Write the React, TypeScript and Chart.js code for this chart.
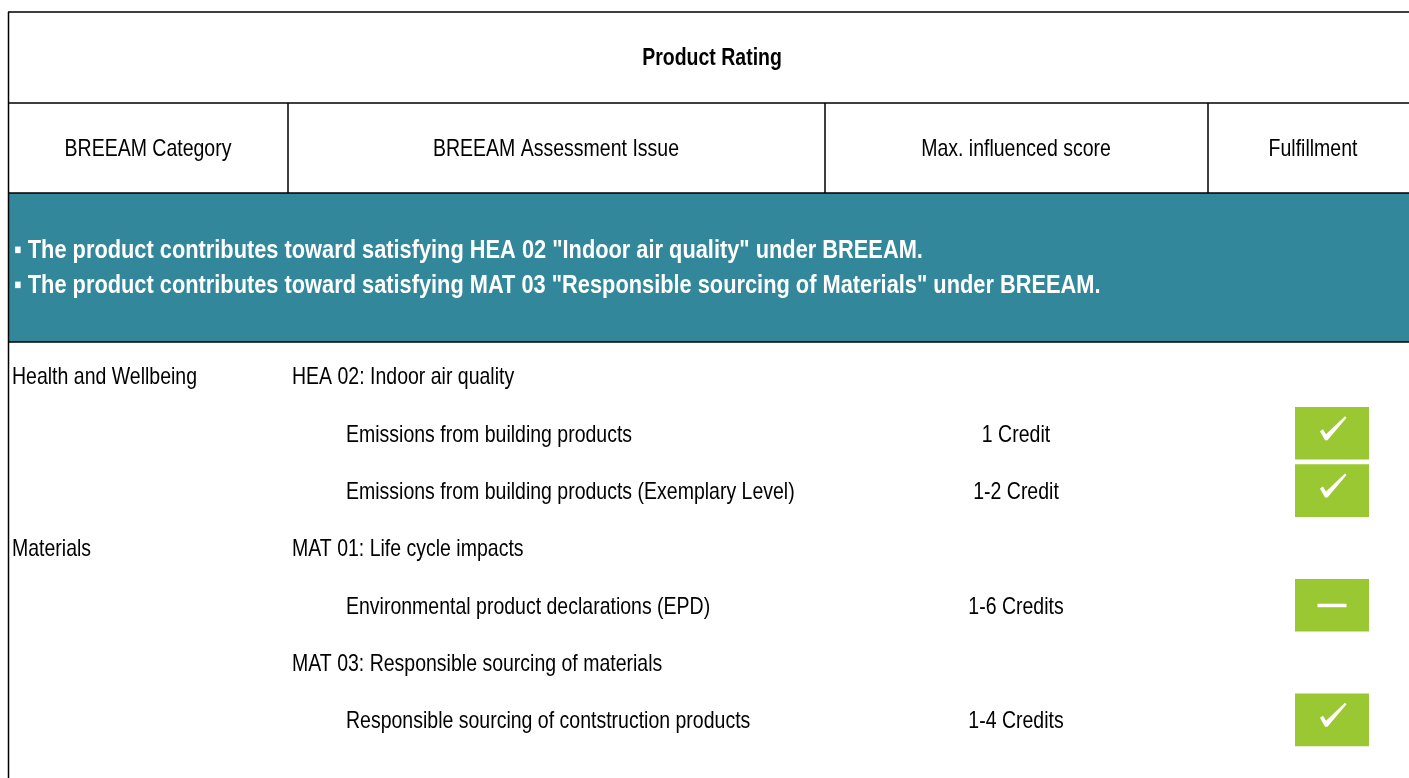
import React, { useEffect, useRef } from "react";
import { Chart, registerables } from "chart.js";

Chart.register(...registerables);

const titleText = "Product Rating";
const columnHeaders = ["BREEAM Category", "BREEAM Assessment Issue", "Max. influenced score", "Fulfillment"];
const bannerLines = [
  "\u25AA The product contributes toward satisfying HEA 02 \"Indoor air quality\" under BREEAM.",
  "\u25AA The product contributes toward satisfying MAT 03 \"Responsible sourcing of Materials\" under BREEAM.",
];
const rowKeys = ["r1", "r2", "r3", "r4", "r5", "r6", "r7"];
const rowCategories = ["Health and Wellbeing", "", "", "Materials", "", "", ""];
const rowIssues = [
  "HEA 02: Indoor air quality",
  "Emissions from building products",
  "Emissions from building products (Exemplary Level)",
  "MAT 01: Life cycle impacts",
  "Environmental product declarations (EPD)",
  "MAT 03: Responsible sourcing of materials",
  "Responsible sourcing of contstruction products",
];
const rowIsSubItem = [false, true, true, false, true, false, true];
const rowScores = ["", "1 Credit", "1-2 Credit", "", "1-6 Credits", "", "1-4 Credits"];
const rowFulfillment = ["", "check", "check", "", "partial", "", "check"];

const FONT = "'Liberation Sans', Arial, sans-serif";
const TEAL = "#32879b";
const GREEN = "#9ac832";
const SY = 1.2;

function txt(ctx: CanvasRenderingContext2D, s: string, x: number, y: number, size: number, bold: boolean, align: CanvasTextAlign, color: string) {
  ctx.save();
  ctx.translate(x, y + 2);
  ctx.scale(1, SY);
  ctx.font = `${bold ? "bold " : ""}${size}px ${FONT}`;
  ctx.textAlign = align;
  ctx.textBaseline = "middle";
  ctx.fillStyle = color;
  ctx.fillText(s, 0, 0);
  ctx.restore();
}

const tablePlugin = {
  id: "tablePlugin",
  beforeDraw(chart: any) {
    const ctx: CanvasRenderingContext2D = chart.ctx;
    const W = chart.width;
    const H = chart.height;
    ctx.save();
    ctx.fillStyle = "#ffffff";
    ctx.fillRect(0, 0, W, H);
    ctx.fillStyle = TEAL;
    ctx.fillRect(8, 193, W - 8, 149);
    ctx.strokeStyle = "#000";
    ctx.lineWidth = 1.5;
    ctx.beginPath();
    [12, 103, 193, 342].forEach((y) => {
      ctx.moveTo(8, y);
      ctx.lineTo(W, y);
    });
    ctx.moveTo(8.5, 12);
    ctx.lineTo(8.5, H);
    [288, 825, 1208].forEach((x) => {
      ctx.moveTo(x, 103);
      ctx.lineTo(x, 193);
    });
    ctx.stroke();
    ctx.restore();

    txt(ctx, titleText, 712, 57, 19.5, true, "center", "#000");
    const hx = [148, 556, 1016, 1313];
    columnHeaders.forEach((h, i) => txt(ctx, h, hx[i], 148, 19.5, false, "center", "#000"));
    bannerLines.forEach((l, i) => txt(ctx, l, 14, 249 + i * 35, 21.8, true, "left", "#fff"));

    const yScale = chart.scales.y;
    rowKeys.forEach((_, i) => {
      const y = yScale.getPixelForValue(i);
      if (rowCategories[i]) txt(ctx, rowCategories[i], 12, y, 19.5, false, "left", "#000");
      txt(ctx, rowIssues[i], rowIsSubItem[i] ? 346 : 292, y, 19.5, false, "left", "#000");
      if (rowScores[i]) txt(ctx, rowScores[i], 1016, y, 19.5, false, "center", "#000");
    });
  },
  afterDatasetsDraw(chart: any) {
    const ctx: CanvasRenderingContext2D = chart.ctx;
    const meta = chart.getDatasetMeta(0);
    meta.data.forEach((el: any, i: number) => {
      const status = rowFulfillment[i];
      if (!status) return;
      const cx = (el.x + el.base) / 2;
      const cy = el.y;
      ctx.save();
      ctx.fillStyle = "#fff";
      if (status === "check") {
        ctx.beginPath();
        ctx.moveTo(cx - 12, cy - 2);
        ctx.lineTo(cx - 9, cy - 4);
        ctx.lineTo(cx - 6, cy + 1);
        ctx.lineTo(cx + 13, cy - 17);
        ctx.lineTo(cx + 14.5, cy - 15.5);
        ctx.lineTo(cx - 4.5, cy + 7);
        ctx.lineTo(cx - 7, cy + 7);
        ctx.closePath();
        ctx.fill();
      } else {
        ctx.fillRect(cx - 14.5, cy - 1.5, 29, 3.5);
      }
      ctx.restore();
    });
  },
};

export default function App() {
  const ref = useRef<HTMLCanvasElement>(null);
  useEffect(() => {
    const chart = new Chart(ref.current!, {
      type: "bar",
      data: {
        labels: rowKeys,
        datasets: [
          {
            data: rowFulfillment.map((s) => (s ? 1 : null)),
            backgroundColor: GREEN,
            borderWidth: 0,
            barThickness: 52,
          },
        ],
      },
      options: {
        indexAxis: "y",
        responsive: false,
        maintainAspectRatio: false,
        animation: false,
        events: [],
        layout: { padding: { left: 1295, right: 40, top: 347.3, bottom: 29.5 } },
        plugins: { legend: { display: false }, tooltip: { enabled: false }, title: { display: false } },
        scales: {
          x: { type: "linear", min: 0, max: 1, display: false },
          y: { type: "category", display: false, offset: true },
        },
      },
      plugins: [tablePlugin],
    });
    return () => chart.destroy();
  }, []);
  return (
    <div style={{ position: "fixed", left: 0, top: 0, width: 1409, height: 778 }}>
      <canvas ref={ref} width={1409} height={778} style={{ width: 1409, height: 778, display: "block" }} />
    </div>
  );
}
